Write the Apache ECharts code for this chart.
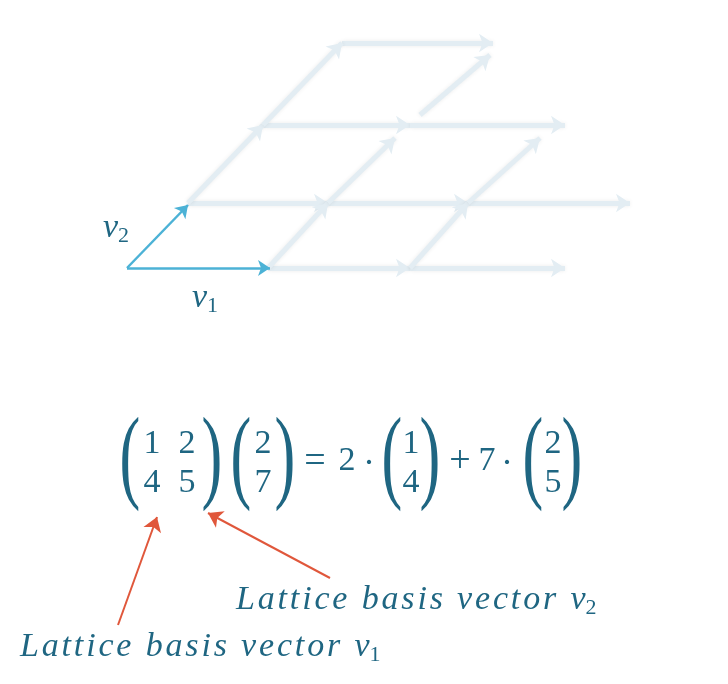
<!DOCTYPE html>
<html>
<head>
<meta charset="utf-8">
<script src="https://cdn.jsdelivr.net/npm/echarts@6/dist/echarts.min.js"></script>
<style>html,body{margin:0;background:#fff}#main{width:728px;height:684px}</style>
</head>
<body>
<div id="main"></div>
<script>
// lattice edges [x1,y1,x2,y2] in picture units
const gridEdges = [
  [268,268,410,268],[410,268,565,268],
  [188,203,328,203],[328,203,468,203],[468,203,630,203],
  [263,125,410,125],[410,125,565,125],
  [342,43,493,43],
  [268,268,328,203],[410,268,468,203],
  [188,203,263,125],[328,203,395,138],[468,203,540,138],
  [263,125,342,43],[420,115,490,55]
]
const basisEdges = [[127,268,270,268],[127,268,188,205]]
const pointerEdges = [[118,625,157,517],[330,578,208,513]]
const matrixA = [['1','2'],['4','5']]
const vecX = ['2','7']
const col1 = ['1','4']
const col2 = ['2','5']
const labelText = 'Lattice basis vector v'

const teal = '#1f6682'
const serif = '"Liberation Serif","DejaVu Serif",serif'
const toLines = a => a.map(e => ({coords: [[e[0], e[1]], [e[2], e[3]]]}))
const spaced = s => s.split('').join('\u200A')

let chart = echarts.init(document.getElementById('main'))

function txt(x, y, s, size, extra) {
  return Object.assign({type: 'text', x: x, y: y,
    style: {text: s, fill: teal, font: size + 'px ' + serif, textAlign: 'center', textVerticalAlign: 'middle'}}, extra || {})
}
function paren(x, ch) { return txt(x, 462, ch, 104, {style: {text: ch, fill: teal, font: '104px ' + serif, textAlign: 'center', textVerticalAlign: 'middle'}, scaleX: 0.6}) }

const g = []
g.push(paren(130, '('), txt(152, 444, matrixA[0][0], 34), txt(187, 444, matrixA[0][1], 34),
  txt(152, 483, matrixA[1][0], 34), txt(187, 483, matrixA[1][1], 34), paren(212, ')'))
g.push(paren(241, '('), txt(263, 444, vecX[0], 34), txt(263, 483, vecX[1], 34), paren(285, ')'))
g.push(txt(315, 462, '=', 38), txt(347, 461, '2', 34), txt(369, 465, '·', 36))
g.push(paren(392, '('), txt(411, 444, col1[0], 34), txt(411, 483, col1[1], 34), paren(430, ')'))
g.push(txt(460, 462, '+', 38), txt(487, 461, '7', 34), txt(507, 465, '·', 36))
g.push(paren(533, '('), txt(553, 444, col2[0], 34), txt(553, 483, col2[1], 34), paren(572, ')'))

const labelRich = {
  m: {fill: teal, font: 'italic 34px ' + serif},
  s: {fill: teal, font: '22px ' + serif, padding: [16, 0, 0, 0]}
}
g.push({type: 'text', x: 236, y: 600, style: {rich: labelRich, text: '{m|' + spaced(labelText) + '}{s|2}', textVerticalAlign: 'middle'}})
g.push({type: 'text', x: 20, y: 647, style: {rich: labelRich, text: '{m|' + spaced(labelText) + '}{s|1}', textVerticalAlign: 'middle'}})
g.push({type: 'text', x: 103, y: 228, style: {rich: labelRich, text: '{m|v}{s|2}', textVerticalAlign: 'middle'}})
g.push({type: 'text', x: 192, y: 298, style: {rich: labelRich, text: '{m|v}{s|1}', textVerticalAlign: 'middle'}})

chart.setOption({
  animation: false,
  grid: {left: 0, right: 0, top: 0, bottom: 0},
  xAxis: {type: 'value', min: 0, max: 728, show: false},
  yAxis: {type: 'value', min: 0, max: 684, inverse: true, show: false},
  series: [
    {type: 'lines', coordinateSystem: 'cartesian2d', data: toLines(gridEdges),
      symbol: ['none', 'arrow'], symbolSize: 14,
      lineStyle: {color: '#e3edf3', width: 5, opacity: 1, shadowColor: 'rgba(0,0,0,0.08)', shadowBlur: 4}},
    {type: 'lines', coordinateSystem: 'cartesian2d', data: toLines(basisEdges),
      symbol: ['none', 'arrow'], symbolSize: 12, lineStyle: {color: '#4cb2d6', width: 2.5, opacity: 1}},
    {type: 'lines', coordinateSystem: 'cartesian2d', data: toLines(pointerEdges),
      symbol: ['none', 'arrow'], symbolSize: 14, lineStyle: {color: '#e0573b', width: 2, opacity: 1}}
  ],
  graphic: g
})
</script>
</body>
</html>
